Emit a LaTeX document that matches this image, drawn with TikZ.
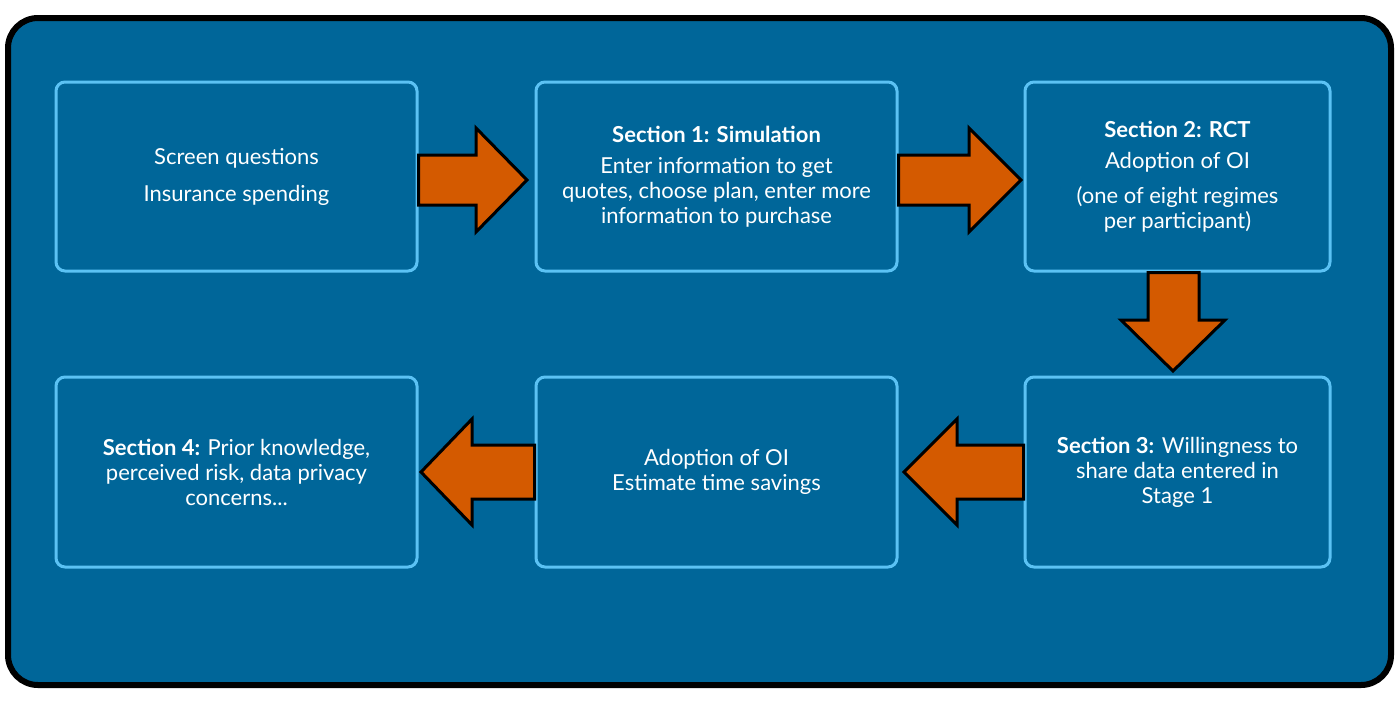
\documentclass[tikz,border=0pt]{standalone}
\usepackage{fontspec}
\setmainfont{Lato}
\begin{document}
\begin{tikzpicture}[x=1pt,y=-1pt,
  box/.style={draw=boxline,line width=3pt,rounded corners=9pt,align=center,text=white,font=\fontsize{22}{25}\selectfont},
  arr/.style={fill=arrfill,draw=black,line width=3pt,line join=miter}]
\definecolor{bg}{HTML}{006699}
\definecolor{boxline}{HTML}{5BC2F4}
\definecolor{arrfill}{HTML}{D45A00}
\useasboundingbox (0,0) rectangle (1400,716);
\draw[fill=bg,line width=6pt,rounded corners=30pt] (8,18) rectangle (1391,685);
\node[box,minimum width=361pt,minimum height=189pt] (a) at (236.5,176.5) {Screen questions\\[12pt]Insurance spending};
\node[box,minimum width=361pt,minimum height=189pt] (b) at (716.5,176.5) {\textbf{Section 1: Simulation}\\[6pt]Enter information to get\\quotes, choose plan, enter more\\information to purchase};
\node[box,minimum width=305pt,minimum height=189pt] (c) at (1177.5,176.5) {\textbf{Section 2: RCT}\\[6pt]Adoption of OI\\[10pt](one of eight regimes\\per participant)};
\node[box,minimum width=305pt,minimum height=190pt] (d) at (1177.5,472) {\textbf{Section 3:} Willingness to\\share data entered in\\Stage 1};
\node[box,minimum width=361pt,minimum height=190pt] (e) at (716.5,472) {Adoption of OI\\Estimate time savings};
\node[box,minimum width=361pt,minimum height=190pt] (f) at (236.5,472) {\textbf{Section 4:} Prior knowledge,\\perceived risk, data privacy\\concerns...};
\draw[arr] (a.east |- 0,155) -- (476,155) -- (476,128) -- (527,180) -- (476,232) -- (476,205) -- (a.east |- 0,205) -- cycle;
\draw[arr] (b.east |- 0,155) -- (969,155) -- (969,128) -- (1021,180) -- (969,232) -- (969,205) -- (b.east |- 0,205) -- cycle;
\draw[arr] (1148,0 |- c.south) -- (1148,320) -- (1121,320) -- (1173,371) -- (1225,320) -- (1199,320) -- (1199,0 |- c.south) -- cycle;
\draw[arr] (d.west |- 0,445) -- (957,445) -- (957,419) -- (904,472) -- (957,525) -- (957,499) -- (d.west |- 0,499) -- cycle;
\draw[arr] (e.west |- 0,445) -- (472,445) -- (472,419) -- (421,472) -- (472,525) -- (472,499) -- (e.west |- 0,499) -- cycle;
\end{tikzpicture}
\end{document}
